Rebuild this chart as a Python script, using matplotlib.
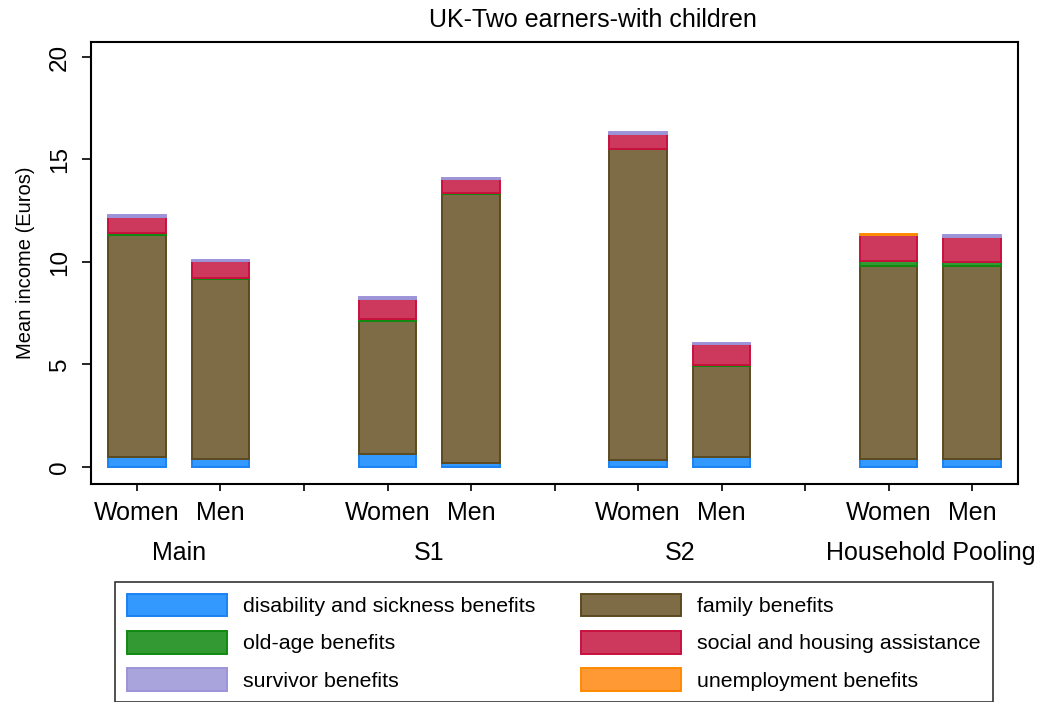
import matplotlib.pyplot as plt
from matplotlib.patches import Patch
import numpy as np

plt.rcParams['font.family'] = ['Liberation Sans', 'DejaVu Sans']

groups = ["Main", "S1", "S2", "Household Pooling"]
sexes = ["Women", "Men"]

# mean income per benefit type, bars ordered Women/Men within each scenario
disability = [0.47, 0.40, 0.62, 0.20, 0.34, 0.50, 0.40, 0.40]
family = [10.83, 8.77, 6.50, 13.12, 15.16, 4.43, 9.42, 9.42]
old_age = [0.10, 0.03, 0.10, 0.02, 0.02, 0.06, 0.23, 0.18]
social = [0.80, 0.83, 0.99, 0.73, 0.72, 1.01, 1.25, 1.23]
survivor = [0.10, 0.05, 0.08, 0.05, 0.10, 0.03, 0.02, 0.07]
unemployment = [0.00, 0.00, 0.00, 0.00, 0.00, 0.00, 0.05, 0.00]

series = [
    ("disability and sickness benefits", disability, "#3399ff", "#1a82f2"),
    ("family benefits", family, "#7e6c46", "#5c4b1f"),
    ("old-age benefits", old_age, "#339a33", "#118a11"),
    ("social and housing assistance", social, "#cc395d", "#c8103e"),
    ("survivor benefits", survivor, "#aaa4dc", "#9c94d8"),
    ("unemployment benefits", unemployment, "#ff9933", "#ff8a00"),
]

fig = plt.figure(figsize=(10.61, 7.02), dpi=100)
ax = fig.add_axes([0.0858, 0.3105, 0.8737, 0.6297])

pos = np.array([g * 3 + s for g in range(len(groups)) for s in range(len(sexes))])
bottom = np.zeros(len(pos))
handles = []
for label, vals, face, edge in series:
    vals = np.array(vals)
    # no outline for empty segments
    lw = np.where(vals > 0, 1.4, 0.0)
    ax.bar(pos, vals, width=0.69, bottom=bottom, color=face,
           edgecolor=edge, linewidth=lw)
    handles.append(Patch(facecolor=face, edgecolor=edge, linewidth=1.4,
                         label=label))
    bottom += vals

ax.set_xlim(-0.55, 10.55)
ax.set_ylim(-0.83, 20.73)

ax.set_yticks([0, 5, 10, 15, 20])
ax.tick_params(axis='y', labelsize=17.5, length=6.5, width=1.2, pad=8,
               labelrotation=90)
for t in ax.get_yticklabels():
    t.set_va('center')

ax.set_xticks(np.arange(0, 11))
xlabels = [""] * 11
for p, s in zip(pos, sexes * len(groups)):
    xlabels[p] = s
ax.set_xticklabels(xlabels)
ax.tick_params(axis='x', labelsize=18, length=5, width=1.2, pad=7)

for g, name in enumerate(groups):
    ax.text(g * 3 + 0.5, -0.157, name, transform=ax.get_xaxis_transform(),
            ha='center', va='center', fontsize=18)

for sp in ax.spines.values():
    sp.set_linewidth(1.5)

ax.set_ylabel("Mean income (Euros)", fontsize=14.5)
ax.yaxis.set_label_coords(-0.06, 0.5)

fig.text(593 / 1061, 0.9715, "UK-Two earners-with children",
         ha='center', va='center', fontsize=18)

# legend filled row by row: two entries per row
order = [0, 2, 4, 1, 3, 5]
leg = fig.legend(handles=[handles[i] for i in order], loc='upper left',
                 bbox_to_anchor=(0.1084, 0.171), ncol=2, fontsize=15.4,
                 frameon=True, fancybox=False, edgecolor='black',
                 handlelength=4.7, handleheight=1.25, handletextpad=0.75,
                 columnspacing=2.1, labelspacing=0.68, borderpad=0.55,
                 borderaxespad=0)
leg.get_frame().set_linewidth(1.2)

fig.savefig("out.png", dpi=100)
